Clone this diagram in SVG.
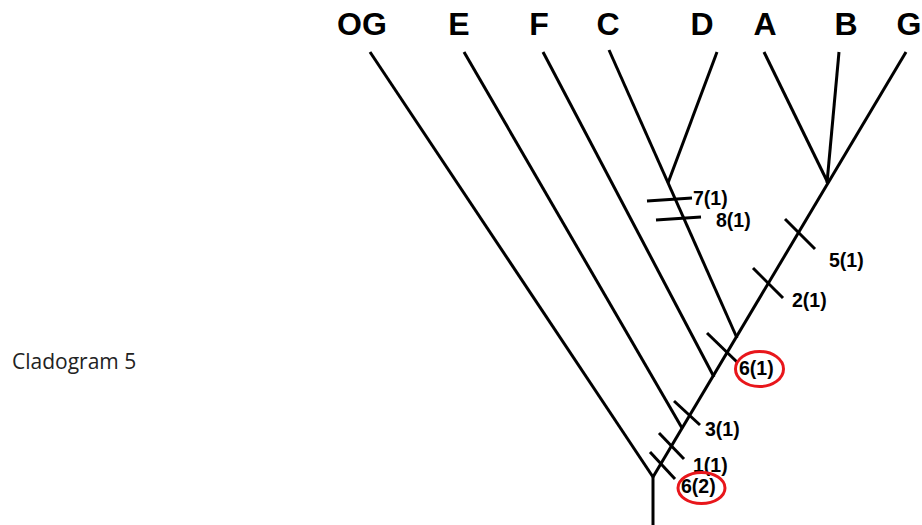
<svg xmlns="http://www.w3.org/2000/svg" width="922" height="525" viewBox="0 0 922 525">
<style>
.br{stroke:#000;stroke-width:3;fill:none;stroke-linecap:butt}
.tk{stroke:#000;stroke-width:3;fill:none}
.tx{font-family:"Liberation Sans",Arial,sans-serif;font-weight:bold;fill:#000}
.taxon{font-size:32px;text-anchor:middle}
.ch{font-size:19.5px}
.hl{fill:none;stroke:#e8161b;stroke-width:3}
.cap{font-family:"Open Sans",sans-serif;font-size:21px;fill:#222}
</style>
<rect width="922" height="525" fill="#fff"/>
<g id="connectors">
<line class="br" x1="653" y1="477" x2="653" y2="525"/>
<line class="br" x1="653" y1="477" x2="906" y2="52"/>
<line class="br" x1="370" y1="52" x2="653" y2="477"/>
<line class="br" x1="464" y1="52" x2="682" y2="428"/>
<line class="br" x1="543" y1="52" x2="714" y2="377"/>
<line class="br" x1="609" y1="50" x2="737" y2="338"/>
<line class="br" x1="717" y1="52" x2="668" y2="183"/>
<line class="br" x1="764" y1="52" x2="828" y2="183"/>
<line class="br" x1="839" y1="52" x2="827" y2="183"/>
</g>
<g id="ticks">
<line class="tk" x1="647" y1="201" x2="692" y2="198"/>
<line class="tk" x1="656" y1="220" x2="701" y2="217"/>
<line class="tk" x1="785" y1="219" x2="815" y2="249"/>
<line class="tk" x1="753" y1="268" x2="783" y2="298"/>
<line class="tk" x1="707" y1="333" x2="737" y2="362"/>
<line class="tk" x1="674" y1="401" x2="700" y2="425"/>
<line class="tk" x1="659" y1="433" x2="684" y2="459"/>
<line class="tk" x1="650" y1="452" x2="675" y2="479"/>
</g>
<g id="taxa">
<g id="node-OG"><text class="tx taxon" x="362" y="35">OG</text></g>
<g id="node-E"><text class="tx taxon" x="459" y="35">E</text></g>
<g id="node-F"><text class="tx taxon" x="539" y="35">F</text></g>
<g id="node-C"><text class="tx taxon" x="608" y="35">C</text></g>
<g id="node-D"><text class="tx taxon" x="702" y="35">D</text></g>
<g id="node-A"><text class="tx taxon" x="765" y="35">A</text></g>
<g id="node-B"><text class="tx taxon" x="846" y="35">B</text></g>
<g id="node-G"><text class="tx taxon" x="909" y="35">G</text></g>
</g>
<g id="characters">
<text class="tx ch" x="693" y="205">7(1)</text>
<text class="tx ch" x="716" y="227">8(1)</text>
<text class="tx ch" x="829" y="267">5(1)</text>
<text class="tx ch" x="792" y="307">2(1)</text>
<text class="tx ch" x="739" y="375">6(1)</text>
<ellipse class="hl" cx="759.5" cy="369" rx="24" ry="17.5"/>
<text class="tx ch" x="705" y="436">3(1)</text>
<text class="tx ch" x="693" y="472">1(1)</text>
<text class="tx ch" x="681" y="493">6(2)</text>
<ellipse class="hl" cx="701.5" cy="488" rx="23.5" ry="15.5"/>
</g>
<g id="caption"><text class="cap" x="12" y="369">Cladogram 5</text></g>
</svg>
